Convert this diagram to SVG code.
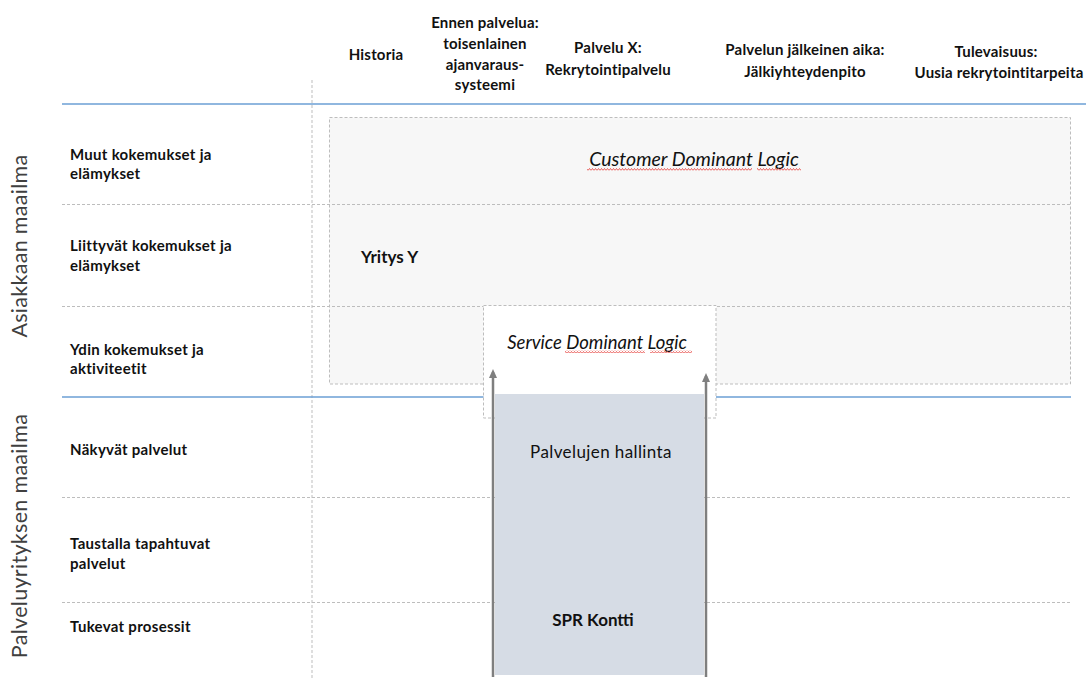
<svg xmlns="http://www.w3.org/2000/svg" width="1086" height="680" viewBox="0 0 1086 680">
<style>
.hdr{font-family:Lato,"Liberation Sans",sans-serif;font-weight:bold;font-size:15px;letter-spacing:0.2px;fill:#111;text-anchor:middle}
.lbl{font-family:Lato,"Liberation Sans",sans-serif;font-weight:bold;font-size:15px;letter-spacing:0.3px;fill:#111}
.rot{font-family:Lato,"Liberation Sans",sans-serif;font-size:21.5px;letter-spacing:0.3px;fill:#404040;text-anchor:middle}
.it{font-family:Lato,"Liberation Sans",sans-serif;font-style:italic;font-size:18.5px;fill:#111;text-anchor:middle}
.big{font-family:Lato,"Liberation Sans",sans-serif;font-size:17px;letter-spacing:0.4px;fill:#111;text-anchor:middle}
.dash{stroke:#bdbdbd;stroke-width:1;stroke-dasharray:3,2}
.blue{stroke:#6b9fd4;stroke-width:1.6;fill:none}
.arrow{stroke:#7f7f7f;stroke-width:2.5;fill:none}
</style>
<defs>
<pattern id="sq" width="3" height="3" patternUnits="userSpaceOnUse">
<path d="M0,2.5 L1.5,0.5 L3,2.5" stroke="#e53935" stroke-width="0.8" fill="none"/>
</pattern>
<marker id="ah" markerWidth="10" markerHeight="10" refX="6" refY="4" orient="auto" markerUnits="userSpaceOnUse" viewBox="0 0 10 10">
<path d="M0,0 L9,4 L0,8 Z" fill="#7f7f7f"/>
</marker>
</defs>
<rect width="1086" height="680" fill="#fff"/>

<g id="cdl-box">
<rect x="329.5" y="117.5" width="741" height="266.5" class="dash" style="fill:#f7f7f7"/>
</g>

<g id="grid">
<line x1="312" y1="80" x2="312" y2="680" class="dash"/>
<line x1="62" y1="204.5" x2="1071" y2="204.5" class="dash"/>
<line x1="62" y1="306.5" x2="1071" y2="306.5" class="dash"/>
<line x1="62" y1="497.5" x2="1071" y2="497.5" class="dash"/>
<line x1="62" y1="602.5" x2="1071" y2="602.5" class="dash"/>
<line x1="62" y1="104" x2="1086" y2="104" class="blue"/>
<line x1="62" y1="397" x2="1071" y2="397" class="blue"/>
</g>

<g id="headers">
<text class="hdr" x="376" y="60">Historia</text>
<text class="hdr" x="485" y="28">Ennen palvelua:</text>
<text class="hdr" x="485" y="49">toisenlainen</text>
<text class="hdr" x="485" y="70">ajanvaraus-</text>
<text class="hdr" x="485" y="90">systeemi</text>
<text class="hdr" x="608" y="53">Palvelu X:</text>
<text class="hdr" x="608" y="75">Rekrytointipalvelu</text>
<text class="hdr" x="805" y="55">Palvelun jälkeinen aika:</text>
<text class="hdr" x="805" y="77">Jälkiyhteydenpito</text>
<text class="hdr" x="996" y="57">Tulevaisuus:</text>
<text class="hdr" x="999" y="78">Uusia rekrytointitarpeita</text>
</g>

<g id="row-labels">
<text class="lbl" x="70" y="160">Muut kokemukset ja</text>
<text class="lbl" x="70" y="179">elämykset</text>
<text class="lbl" x="70" y="251">Liittyvät kokemukset ja</text>
<text class="lbl" x="70" y="271">elämykset</text>
<text class="lbl" x="70" y="355">Ydin kokemukset ja</text>
<text class="lbl" x="70" y="374">aktiviteetit</text>
<text class="lbl" x="70" y="455">Näkyvät palvelut</text>
<text class="lbl" x="70" y="549">Taustalla tapahtuvat</text>
<text class="lbl" x="70" y="569">palvelut</text>
<text class="lbl" x="70" y="632">Tukevat prosessit</text>
</g>

<g id="side-labels">
<text class="rot" transform="translate(27,246) rotate(-90)">Asiakkaan maailma</text>
<text class="rot" transform="translate(27,536) rotate(-90)">Palveluyrityksen maailma</text>
</g>

<g id="cdl-label">
<text class="it" x="694" y="166" style="font-size:19.5px">Customer Dominant Logic</text>
<rect x="587" y="168" width="165" height="3" fill="url(#sq)"/>
<rect x="757" y="168" width="44" height="3" fill="url(#sq)"/>
</g>

<g id="yritys">
<text class="big" x="361" y="263" style="font-weight:bold;text-anchor:start;letter-spacing:0">Yritys Y</text>
</g>

<g id="sdl-box">
<rect x="483.5" y="305.5" width="232.5" height="112.5" class="dash" style="fill:#fff"/>
<text class="it" x="597" y="349">Service Dominant Logic</text>
<rect x="565" y="350" width="80" height="3" fill="url(#sq)"/>
<rect x="650" y="350" width="42" height="3" fill="url(#sq)"/>
</g>

<g id="palvelujen-hallinta">
<rect x="495" y="394" width="209" height="281" fill="#d6dce5"/>
<text class="big" x="601" y="458">Palvelujen hallinta</text>
<text class="big" x="593" y="626" style="font-weight:bold;letter-spacing:0">SPR Kontti</text>
</g>

<g id="connectors">
<line x1="493" y1="677" x2="493" y2="372" class="arrow" marker-end="url(#ah)"/>
<line x1="706" y1="677" x2="706" y2="376" class="arrow" marker-end="url(#ah)"/>
</g>
</svg>
